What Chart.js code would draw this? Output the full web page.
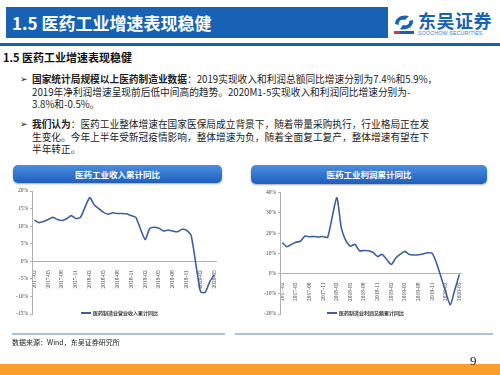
<!DOCTYPE html>
<html>
<head>
<meta charset="utf-8">
<script src="https://cdn.jsdelivr.net/npm/chart.js@4.4.1/dist/chart.umd.min.js"></script>
<style>
  body { margin: 0; }
  #slide { position: relative; width: 500px; height: 375px; overflow: hidden; background: #fff;
           font-family: "Noto Sans CJK SC", "Noto Sans", sans-serif; color: #222; }
  .abs { position: absolute; }
  #titlebar { left: 6px; top: 7px; width: 382px; height: 31px; background: #1762b4;
              color: #fff; font-size: 17px; font-weight: bold; line-height: 31px; padding-left: 6px; box-sizing: border-box; white-space: nowrap; }
  #brand { left: 418px; top: 9px; font-size: 18px; font-weight: bold; color: #1762b4; letter-spacing: 0.5px; line-height: 22px; }
  #brandEn { left: 418px; top: 30px; font-size: 5.3px; color: #3c7cc4; font-family: "Liberation Sans", sans-serif; letter-spacing: 0.15px; }
  #topline { left: 0; top: 43px; width: 500px; height: 3px; background: #1762b4; }
  #subtitle { left: 3px; top: 49px; font-size: 11px; font-weight: bold; color: #111; line-height: 16px; }
  .bullet { left: 20px; font-size: 9.7px; line-height: 12.5px; white-space: nowrap; color: #222; }
  .bullet .mark { position: absolute; left: 0; top: 0; font-family: "DejaVu Sans", sans-serif; font-size: 9px; font-weight: bold; color: #111; }
  .bullet .txt { position: absolute; left: 12px; top: 0; }
  .chead { height: 18px; border-radius: 5px; color: #fff; font-weight: bold; font-size: 8.5px; text-align: center;
           line-height: 18px; background: linear-gradient(to bottom, #4a8ee0, #1f5fbc); box-shadow: 0 1px 2px rgba(0,0,0,0.35); }
  .legend { font-size: 5px; font-weight: bold; color: #333; white-space: nowrap; line-height: 8px; }
  .legend span { display: inline-block; width: 10px; height: 1.5px; background: #3f5e9c; vertical-align: middle; margin-right: 2px; }
  .sep { height: 1.5px; background: #a9c3dc; top: 333px; }
  #source { left: 12px; top: 337px; font-size: 7px; color: #222; line-height: 10px; }
  #footer { left: 0; top: 364px; width: 500px; height: 11px; background: #f99d2b; }
  #pageno { left: 470px; top: 353px; font-size: 13px; font-family: "Liberation Serif", serif; color: #222; }
</style>
</head>
<body>
<div id="slide">
  <div id="titlebar" class="abs">1.5 医药工业增速表现稳健</div>
  <svg class="abs" style="left:392px;top:12px" width="24" height="24" viewBox="0 0 24 24">
    <path d="M3 12 C3 5, 11 2, 17 4 L13 8 C9 7, 6 9, 7 13 Z" fill="#1762b4"/>
    <path d="M21 8 C22 15, 14 19, 8 17 L11 13 C15 14, 18 12, 17 9 Z" fill="#1762b4"/>
    <rect x="2" y="19" width="20" height="3" fill="#1762b4"/>
    <rect x="2" y="19" width="6" height="3" fill="#d43a2f"/>
  </svg>
  <div id="brand" class="abs">东吴证券</div>
  <div id="brandEn" class="abs">SOOCHOW SECURITIES</div>
  <div id="topline" class="abs"></div>
  <div id="subtitle" class="abs">1.5 医药工业增速表现稳健</div>

  <div class="abs bullet" style="top:73px">
    <span class="mark">➢</span>
    <div class="txt"><b>国家统计局规模以上医药制造业数据</b>：2019实现收入和利润总额同比增速分别为7.4%和5.9%，<br>2019年净利润增速呈现前后低中间高的趋势。2020M1-5实现收入和利润同比增速分别为-<br>3.8%和-0.5%。</div>
  </div>
  <div class="abs bullet" style="top:118px">
    <span class="mark">➢</span>
    <div class="txt"><b>我们认为</b>：医药工业整体增速在国家医保局成立背景下，随着带量采购执行，行业格局正在发<br>生变化。今年上半年受新冠疫情影响，整体增速为负，随着全面复工复产，整体增速有望在下<br>半年转正。</div>
  </div>

  <div class="abs chead" style="left:13px;top:165px;width:209px;">医药工业收入累计同比</div>
  <div class="abs chead" style="left:251px;top:165px;width:236px;height:19px;line-height:19px;">医药工业利润累计同比</div>

  <canvas id="revenueChart" class="abs" width="215" height="140" style="left:10px;top:185px"></canvas>
  <canvas id="profitChart" class="abs" width="235" height="140" style="left:255px;top:185px"></canvas>

  <div class="abs legend" style="left:81px;top:308.5px"><span></span>医药制造业营业收入累计同比</div>
  <div class="abs legend" style="left:327px;top:308.5px"><span></span>医药制造业利润总额累计同比</div>

  <div class="abs sep" style="left:12px;width:213px"></div>
  <div class="abs sep" style="left:235px;width:258px"></div>
  <div id="source" class="abs">数据来源：Wind，东吴证券研究所</div>
  <div id="footer" class="abs"></div>
  <div id="pageno" class="abs">9</div>
</div>

<script>
// monthly axis, Jan is merged into Feb in the source data (left empty)
const monthLabels = [
    '2017-02', '2017-03', '2017-04', '2017-05', '2017-06', '2017-07', '2017-08', '2017-09', '2017-10', '2017-11', '2017-12',
    '2018-01', '2018-02', '2018-03', '2018-04', '2018-05', '2018-06', '2018-07', '2018-08', '2018-09', '2018-10', '2018-11', '2018-12',
    '2019-01', '2019-02', '2019-03', '2019-04', '2019-05', '2019-06', '2019-07', '2019-08', '2019-09', '2019-10', '2019-11', '2019-12',
    '2020-01', '2020-02', '2020-03', '2020-04', '2020-05'
];

// 医药制造业营业收入累计同比 (%)
const revenueGrowth = [
    11.7, 11.0, 11.3, 11.9, 12.5, 11.9, 11.6, 12.1, 13.0, 12.2, 12.5,
    null, 18.1, 16.0, 15.0, 13.9, 13.4, 13.8, 13.6, 13.6, 13.5, 13.0, 12.5,
    null, 6.2, 9.3, 9.7, 9.4, 8.6, 8.9, 8.6, 8.4, 9.1, 8.8, 7.3,
    null, -8.6, -8.9, -5.9, -3.8
];

// 医药制造业利润总额累计同比 (%)
const profitGrowth = [
    15.3, 13.3, 14.4, 15.5, 16.0, 18.6, 18.2, 18.3, 18.1, 18.3, 17.9,
    null, 37.5, 22.6, 16.3, 13.5, 14.5, 11.3, 11.4, 11.3, 10.4, 8.4, 9.5,
    null, 4.5, 7.7, 9.6, 11.0, 9.4, 9.2, 9.3, 9.7, 10.3, 10.0, 5.0,
    null, -9.0, -15.5, -8.0, -0.5
];

const revenueRange = { min: -15, max: 20, step: 5 };
const profitRange = { min: -20, max: 40, step: 10 };

const tickFont = { family: 'Liberation Serif', size: 5.5 };

function makeLineChart(canvasId, label, values, range, axisWidth, padRight, padTop) {
    const ctx = document.getElementById(canvasId).getContext('2d');
    return new Chart(ctx, {
        type: 'line',
        data: {
            labels: monthLabels,
            datasets: [{
                label: label,
                data: values,
                borderColor: '#3f5e9c',
                borderWidth: 1.6,
                pointRadius: 0,
                tension: 0.2,
                spanGaps: true,
                fill: false
            }]
        },
        options: {
            responsive: false,
            animation: false,
            layout: { padding: { left: 0, right: padRight, top: padTop, bottom: 11 } },
            plugins: { legend: { display: false }, tooltip: { enabled: false } },
            scales: {
                x: {
                    position: { y: 0 },
                    offset: true,
                    grid: { display: false },
                    border: { color: '#b0b0b0', width: 1 },
                    ticks: {
                        autoSkip: false,
                        minRotation: 90,
                        maxRotation: 90,
                        padding: 1,
                        font: tickFont,
                        color: '#444',
                        callback: (v, i) => (i % 3 === 0 ? monthLabels[i] : '')
                    }
                },
                y: {
                    min: range.min,
                    max: range.max,
                    afterFit: (scale) => { scale.width = axisWidth; },
                    grid: { drawOnChartArea: false, tickLength: 2, color: '#b0b0b0' },
                    border: { color: '#b0b0b0', width: 1 },
                    ticks: {
                        stepSize: range.step,
                        padding: 2,
                        font: tickFont,
                        color: '#444',
                        callback: (v) => v + '%'
                    }
                }
            }
        }
    });
}

document.addEventListener('DOMContentLoaded', () => {
    makeLineChart('revenueChart', '医药制造业营业收入累计同比', revenueGrowth, revenueRange, 22, 8.4, 6);
    makeLineChart('profitChart', '医药制造业利润总额累计同比', profitGrowth, profitRange, 25, 28.4, 7.7);
});
</script>
</body>
</html>
